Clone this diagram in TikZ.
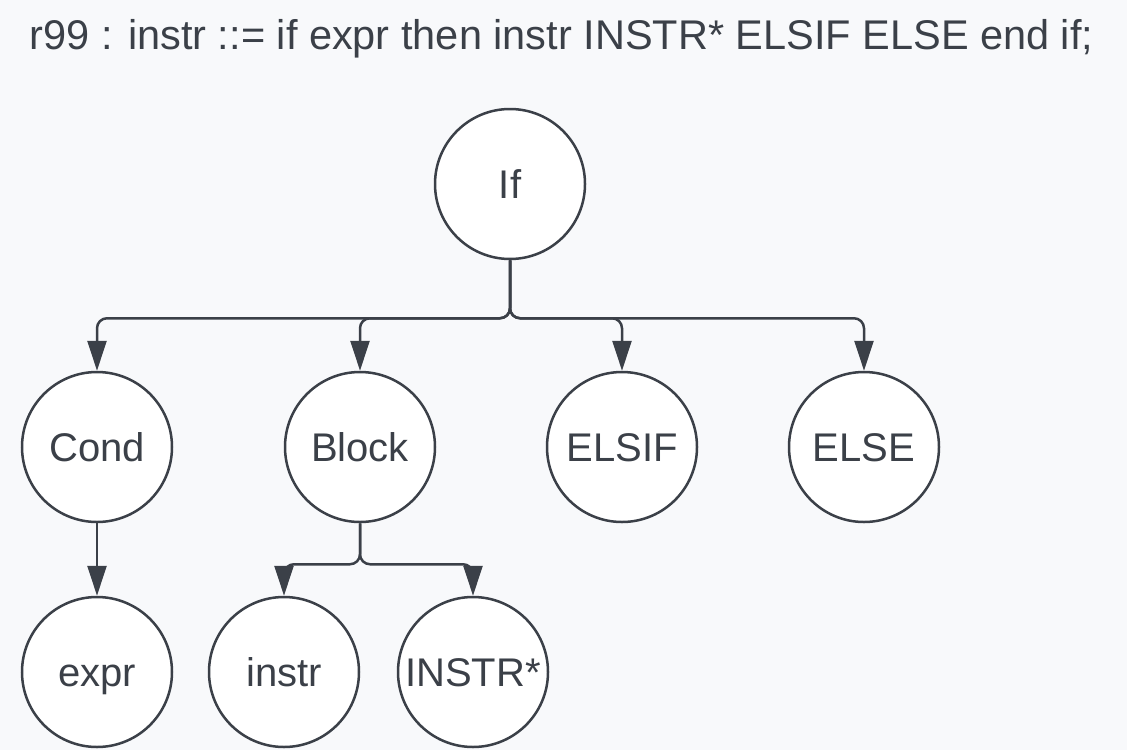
\documentclass[tikz,border=0pt]{standalone}
\usepackage{fontspec}
\setmainfont{Liberation Sans}
\usetikzlibrary{arrows.meta}
\definecolor{ink}{HTML}{3B4048}
\definecolor{paper}{HTML}{F8F9FB}
\begin{document}
\begin{tikzpicture}[x=1pt,y=-1pt,
    tnode/.style={circle,draw=ink,fill=white,line width=2.5pt,minimum size=150pt,inner sep=0pt,
                  text=ink,text height=29pt,text depth=0pt,font=\fontsize{40}{48}\selectfont},
    link/.style={draw=ink,line width=2.5pt,rounded corners=10pt,-{Triangle[width=19pt,length=30pt]}}]
    \fill[paper] (0,0) rectangle (1127,750);
    \useasboundingbox (0,0) rectangle (1127,750);

    \node[text=ink,font=\fontsize{41.5}{49}\selectfont,anchor=base] (title) at (561.5,49)
        {r99 : instr ::= if expr then instr INSTR* ELSIF ELSE end if;};

    % level 1
    \node[tnode] (ifnode) at (510,184) {If};
    % level 2
    \node[tnode] (cond)  at (97,447)  {Cond};
    \node[tnode] (block) at (360,447) {Block};
    \node[tnode] (elsif) at (622,447) {ELSIF};
    \node[tnode] (else)  at (864,447) {ELSE};
    % level 3
    \node[tnode] (expr)   at (97,672)  {expr};
    \node[tnode] (instr)  at (284,672) {instr};
    \node[tnode] (instrs) at (473,672) {INSTR*};

    \foreach \kid in {cond,block,elsif,else}
        \draw[link] (ifnode.south) -- ++(0,58) -| (\kid.north);
    \draw[link] (cond.south) -- (expr.north);
    \foreach \kid in {instr,instrs}
        \draw[link] (block.south) -- ++(0,41) -| (\kid.north);
\end{tikzpicture}
\end{document}
